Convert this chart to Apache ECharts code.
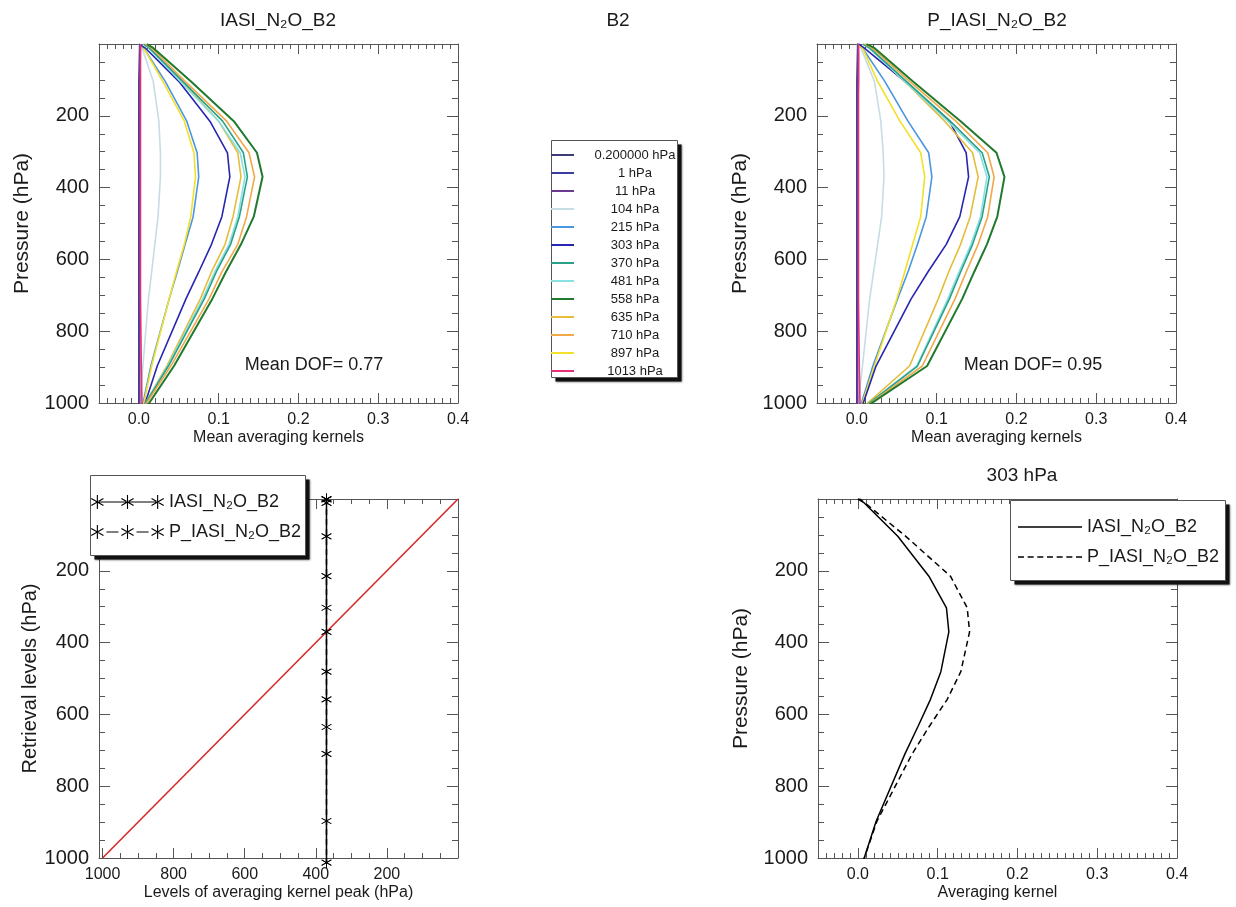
<!DOCTYPE html>
<html><head><meta charset="utf-8">
<script src="https://cdn.jsdelivr.net/npm/echarts@6/dist/echarts.min.js"></script>
<style>html,body{margin:0;padding:0;background:#fff}#c{width:1236px;height:907px}</style>
</head><body><div id="c"></div>
<script>
// ---------------- DATA ----------------
const levels = [0.2, 1, 11, 104, 215, 303, 370, 481, 558, 635, 710, 897, 1013];
const levelNames = ['0.200000 hPa','1 hPa','11 hPa','104 hPa','215 hPa','303 hPa','370 hPa','481 hPa','558 hPa','635 hPa','710 hPa','897 hPa','1013 hPa'];
const levelColors = ['#3b3b78','#3c3ca0','#6b3a90','#c5dde3','#4b96e0','#2626b0','#2aa08a','#88e0e0','#1f7a2e','#e6bc3a','#f0a848','#f2e02a','#e8307a'];

// Mean averaging kernels, IASI_N2O_B2 (one row per retrieval level, values at "levels")
const iasi_0p2  = [0.001,0.001,0.001,0.000,0.000,0.000,0.000,0.000,0.000,0.000,0.000,0.000,0.000];
const iasi_1    = [0.001,0.001,0.001,0.001,0.000,0.000,0.000,0.000,0.000,0.000,0.000,0.000,0.000];
const iasi_11   = [0.001,0.001,0.002,0.001,0.001,0.001,0.001,0.001,0.001,0.001,0.001,0.001,0.001];
const iasi_104  = [0.000,0.001,0.004,0.018,0.025,0.027,0.027,0.024,0.020,0.016,0.012,0.005,0.001];
const iasi_215  = [0.000,0.002,0.006,0.033,0.060,0.073,0.075,0.068,0.058,0.048,0.038,0.015,0.004];
const iasi_303  = [0.000,0.002,0.008,0.050,0.089,0.111,0.114,0.104,0.091,0.075,0.059,0.023,0.006];
const iasi_370  = [0.006,0.008,0.013,0.055,0.105,0.131,0.136,0.126,0.115,0.097,0.082,0.037,0.005];
const iasi_481  = [0.005,0.007,0.012,0.052,0.100,0.127,0.133,0.124,0.113,0.095,0.080,0.036,0.005];
const iasi_558  = [0.010,0.012,0.018,0.065,0.119,0.148,0.155,0.144,0.128,0.109,0.092,0.044,0.009];
const iasi_635  = [0.007,0.009,0.014,0.054,0.100,0.124,0.128,0.118,0.108,0.091,0.077,0.035,0.005];
const iasi_710  = [0.008,0.010,0.016,0.058,0.110,0.138,0.145,0.135,0.124,0.104,0.088,0.040,0.006];
const iasi_897  = [0.000,0.002,0.006,0.030,0.057,0.069,0.071,0.065,0.057,0.047,0.038,0.016,0.005];
const iasi_1013 = [0.002,0.002,0.002,0.002,0.002,0.002,0.002,0.002,0.002,0.002,0.002,0.003,0.004];

// Mean averaging kernels, P_IASI_N2O_B2
const p_0p2  = [0.001,0.001,0.001,0.000,0.000,0.000,0.000,0.000,0.000,0.000,0.000,0.000,0.000];
const p_1    = [0.001,0.001,0.001,0.001,0.000,0.000,0.000,0.000,0.000,0.000,0.000,0.000,0.000];
const p_11   = [0.001,0.001,0.002,0.002,0.001,0.001,0.001,0.001,0.001,0.001,0.001,0.001,0.001];
const p_104  = [0.000,0.001,0.005,0.022,0.030,0.033,0.034,0.031,0.026,0.021,0.016,0.007,0.001];
const p_215  = [0.000,0.002,0.007,0.035,0.064,0.090,0.094,0.087,0.076,0.064,0.051,0.020,0.004];
const p_303  = [0.000,0.003,0.009,0.060,0.116,0.137,0.140,0.129,0.112,0.089,0.068,0.024,0.006];
const p_370  = [0.008,0.010,0.016,0.062,0.117,0.157,0.166,0.157,0.145,0.130,0.116,0.076,0.008];
const p_481  = [0.007,0.009,0.015,0.060,0.114,0.154,0.163,0.155,0.143,0.128,0.114,0.075,0.008];
const p_558  = [0.012,0.014,0.022,0.070,0.130,0.175,0.185,0.176,0.163,0.147,0.132,0.088,0.010];
const p_635  = [0.008,0.010,0.016,0.060,0.110,0.145,0.152,0.142,0.130,0.115,0.102,0.066,0.007];
const p_710  = [0.010,0.012,0.019,0.066,0.124,0.164,0.172,0.164,0.152,0.137,0.123,0.082,0.009];
const p_897  = [0.000,0.002,0.007,0.026,0.054,0.080,0.085,0.080,0.070,0.060,0.050,0.022,0.005];
const p_1013 = [0.002,0.002,0.002,0.002,0.002,0.002,0.002,0.002,0.002,0.002,0.002,0.003,0.004];

const iasiKernels = [iasi_0p2,iasi_1,iasi_11,iasi_104,iasi_215,iasi_303,iasi_370,iasi_481,iasi_558,iasi_635,iasi_710,iasi_897,iasi_1013];
const pKernels    = [p_0p2,p_1,p_11,p_104,p_215,p_303,p_370,p_481,p_558,p_635,p_710,p_897,p_1013];

// Levels of averaging kernel peak for each retrieval level
const peakIASI = [370,370,370,370,370,370,370,370,370,370,370,370,370];
const peakP    = [370,370,370,370,370,370,370,370,370,370,370,370,370];
const oneToOneX = [1000, 0];
const oneToOneY = [1000, 0];

const akTicks = [0, 0.1, 0.2, 0.3, 0.4];
const pressureTicks = [200, 400, 600, 800, 1000];
const peakTicks = [1000, 800, 600, 400, 200];
const dofValues = [0.77, 0.95];
const panelTitles = ['IASI_N\u2082O_B2', 'B2', 'P_IASI_N\u2082O_B2', '303 hPa'];
const productNames = ['IASI_N\u2082O_B2', 'P_IASI_N\u2082O_B2'];
const selectedLevel = '303 hPa';

// ---------------- STYLE ----------------
const FONT = "'Liberation Sans', 'DejaVu Sans', Arial, sans-serif";
const AX = '#555';
const TXT = '#1a1a1a';

function tickStyle(len, vals) {
  const t = {show: true, inside: true, length: len, lineStyle: {color: AX, width: 1}};
  if (vals) t.customValues = vals;
  return t;
}
function xPair(gi, o) {
  const mk = (pos, main) => {
    const a = {
      gridIndex: gi, type: 'value', position: pos, min: o.min, max: o.max, inverse: !!o.inverse,
      splitLine: {show: false},
      axisLine: {show: true, onZero: false, lineStyle: {color: AX, width: 1}},
      axisTick: tickStyle(10, o.ticks),
      minorTick: {show: true, splitNumber: o.minorSplit, length: 5, lineStyle: {color: AX, width: 1}},
      axisLabel: main ? {show: true, customValues: o.labels, formatter: o.fmt, fontSize: 16, color: TXT, margin: 9, fontFamily: FONT} : {show: false}
    };
    if (o.interval) a.interval = o.interval;
    if (main) {
      a.name = o.name; a.nameLocation = 'middle'; a.nameGap = 27;
      a.nameTextStyle = {fontSize: 16, color: TXT, fontFamily: FONT};
    }
    return a;
  };
  return [mk('bottom', true), mk('top', false)];
}
function yPair(gi, o) {
  const mk = (pos, main) => {
    const a = {
      gridIndex: gi, type: 'value', position: pos, min: 0, max: 1000, interval: 200, inverse: true,
      splitLine: {show: false},
      axisLine: {show: true, onZero: false, lineStyle: {color: AX, width: 1}},
      axisTick: tickStyle(11, [0, 200, 400, 600, 800, 1000]),
      minorTick: {show: true, splitNumber: 4, length: 6, lineStyle: {color: AX, width: 1}},
      axisLabel: main ? {show: true, customValues: pressureTicks, formatter: v => String(v), fontSize: 20, color: TXT, margin: 10, fontFamily: FONT} : {show: false}
    };
    if (main) {
      a.name = o.name; a.nameLocation = 'middle'; a.nameGap = o.nameGap;
      a.nameTextStyle = {fontSize: o.nameSize, color: TXT, fontFamily: FONT};
    }
    return a;
  };
  return [mk('left', true), mk('right', false)];
}

const akFmt = v => v.toFixed(1);
const xAxes = [].concat(
  xPair(0, {min: -0.05, max: 0.4, ticks: akTicks, labels: akTicks, fmt: akFmt, minorSplit: 10, name: 'Mean averaging kernels'}),
  xPair(1, {min: -0.05, max: 0.4, ticks: akTicks, labels: akTicks, fmt: akFmt, minorSplit: 10, name: 'Mean averaging kernels'}),
  xPair(2, {min: 0, max: 1010, inverse: true, interval: 200, ticks: [0].concat(peakTicks), labels: peakTicks, fmt: v => String(v), minorSplit: 4, name: 'Levels of averaging kernel peak (hPa)'}),
  xPair(3, {min: -0.05, max: 0.4, ticks: akTicks, labels: akTicks, fmt: akFmt, minorSplit: 10, name: 'Averaging kernel'})
);
const yAxes = [].concat(
  yPair(0, {name: 'Pressure (hPa)', nameGap: 66, nameSize: 21}),
  yPair(1, {name: 'Pressure (hPa)', nameGap: 66, nameSize: 21}),
  yPair(2, {name: 'Retrieval levels (hPa)', nameGap: 54, nameSize: 20}),
  yPair(3, {name: 'Pressure (hPa)', nameGap: 66, nameSize: 21})
);

// ---------- marker / icon paths ----------
function bar(cx, cy, angDeg, r, w) {
  const a = angDeg * Math.PI / 180, dx = Math.cos(a), dy = Math.sin(a), px = -dy, py = dx;
  const pts = [[cx + dx*r + px*w, cy + dy*r + py*w], [cx + dx*r - px*w, cy + dy*r - py*w],
               [cx - dx*r - px*w, cy - dy*r - py*w], [cx - dx*r + px*w, cy - dy*r + py*w]];
  return 'M' + pts.map(p => p[0].toFixed(2) + ',' + p[1].toFixed(2)).join('L') + 'Z';
}
function asterisk(cx, cy, r, w) { return bar(cx, cy, 90, r, w) + bar(cx, cy, 30, r, w) + bar(cx, cy, -30, r, w); }
function hrect(x0, x1, y0, y1) { return 'M' + x0 + ',' + y0 + 'H' + x1 + 'V' + y1 + 'H' + x0 + 'Z'; }

const starSymbol = 'path://' + asterisk(0, 0, 10, 0.7);
const legendStarSolid = 'path://' + hrect(6, 66, 6.4, 7.6) + asterisk(6, 7, 7, 0.55) + asterisk(36, 7, 7, 0.55) + asterisk(66, 7, 7, 0.55);
const legendStarDash = 'path://' + hrect(15, 27, 6.4, 7.6) + hrect(45, 57, 6.4, 7.6) + asterisk(6, 7, 7, 0.55) + asterisk(36, 7, 7, 0.55) + asterisk(66, 7, 7, 0.55);
let dashIcon = 'path://';
for (let k = 0; k < 7; k++) { const x0 = k * 9.67; dashIcon += hrect(+x0.toFixed(2), +(x0 + 6).toFixed(2), 0, 1); }

// ---------------- SERIES ----------------
const series = [];
function kernelSeries(gi, kernels) {
  // draw near-zero rows last so that they stay visible on the zero line
  const order = [3, 4, 11, 5, 9, 7, 6, 10, 8, 0, 1, 2, 12];
  order.forEach(i => {
    series.push({
      type: 'line', name: levelNames[i], xAxisIndex: 2*gi, yAxisIndex: 2*gi,
      data: levels.map((p, j) => [kernels[i][j], p]),
      symbol: 'none', showSymbol: false, silent: true,
      lineStyle: {color: levelColors[i], width: i === 8 ? 2 : 1.6},
      itemStyle: {color: levelColors[i]},
      emphasis: {disabled: true}
    });
  });
}
kernelSeries(0, iasiKernels);
kernelSeries(1, pKernels);

series.push({
  type: 'line', name: '1:1', xAxisIndex: 4, yAxisIndex: 4, silent: true,
  data: oneToOneX.map((x, i) => [x, oneToOneY[i]]), symbol: 'none',
  lineStyle: {color: '#d42a2a', width: 1.6}, itemStyle: {color: '#d42a2a'}, emphasis: {disabled: true}
});
[peakIASI, peakP].forEach((pk, s) => {
  series.push({
    type: 'line', name: productNames[s], xAxisIndex: 4, yAxisIndex: 4, silent: true, clip: false,
    data: levels.map((p, j) => [pk[j], p]),
    symbol: starSymbol, symbolSize: [10, 11], showSymbol: true,
    lineStyle: {color: '#000', width: 1.5, type: s === 0 ? 'solid' : [6, 4]},
    itemStyle: {color: '#000', borderWidth: 0}, emphasis: {disabled: true}
  });
});
const k303 = levelNames.indexOf(selectedLevel);
[iasiKernels[k303], pKernels[k303]].forEach((ak, s) => {
  series.push({
    type: 'line', name: productNames[s], xAxisIndex: 6, yAxisIndex: 6, silent: true,
    data: levels.map((p, j) => [ak[j], p]), symbol: 'none',
    lineStyle: {color: '#000', width: 1.5, type: s === 0 ? 'solid' : [6, 4]},
    itemStyle: {color: '#000'}, emphasis: {disabled: true}
  });
});

// ---------------- LAYOUT ----------------
const grids = [
  {left: 99,  top: 44,  width: 359, height: 359},
  {left: 817, top: 44,  width: 359, height: 359},
  {left: 99,  top: 499, width: 359, height: 359},
  {left: 818, top: 499, width: 359, height: 359}
].map(g => Object.assign(g, {containLabel: false, outerBoundsMode: 'none', show: false}));

const titleStyle = {fontSize: 19, fontWeight: 'normal', color: TXT, fontFamily: FONT};
const titles = [
  {text: panelTitles[0], left: 278, top: 11},
  {text: panelTitles[1], left: 618, top: 11},
  {text: panelTitles[2], left: 997, top: 11},
  {text: panelTitles[3], left: 1022, top: 466}
].map(t => Object.assign(t, {textAlign: 'center', padding: 0, textStyle: titleStyle}));

// legend frames: a dark offset shadow block, then a white framed box on top
const legendBoxes = [[551.5, 140.5, 126, 237], [90.5, 475.5, 215, 80], [1010.5, 500.5, 215, 80]];
const graphics = [];
legendBoxes.forEach(b => {
  graphics.push({type: 'rect', z: 99, silent: true, shape: {x: b[0] + 4, y: b[1] + 4, width: b[2], height: b[3]},
                 style: {fill: '#111', shadowBlur: 2, shadowColor: 'rgba(0,0,0,0.6)'}});
  graphics.push({type: 'rect', z: 100, silent: true, shape: {x: b[0], y: b[1], width: b[2], height: b[3]},
                 style: {fill: '#fff', stroke: '#555', lineWidth: 1}});
});
graphics.push(
  {type: 'text', z: 100, x: 314, y: 365, silent: true,
   style: {text: 'Mean DOF= ' + dofValues[0].toFixed(2), fontSize: 18, fontFamily: FONT, fill: TXT, align: 'center', verticalAlign: 'middle', textAlign: 'center', textVerticalAlign: 'middle'}},
  {type: 'text', z: 100, x: 1033, y: 365, silent: true,
   style: {text: 'Mean DOF= ' + dofValues[1].toFixed(2), fontSize: 18, fontFamily: FONT, fill: TXT, align: 'center', verticalAlign: 'middle', textAlign: 'center', textVerticalAlign: 'middle'}}
);

const legends = [
  {
    data: levelNames, orient: 'vertical', left: 551, top: 146, padding: 0, itemGap: 0,
    itemWidth: 23, itemHeight: 2, icon: 'rect', symbolKeepAspect: false, selectedMode: false, z: 200,
    itemStyle: {borderWidth: 0},
    formatter: n => '{c|' + n + '}',
    textStyle: {fontSize: 13, color: TXT, fontFamily: FONT, lineHeight: 18,
      rich: {c: {width: 112, align: 'center', fontSize: 13, lineHeight: 18, fontFamily: FONT, color: TXT}}}
  },
  {
    data: [{name: productNames[0], icon: legendStarSolid}, {name: productNames[1], icon: legendStarDash}],
    orient: 'vertical', left: 91, top: 492, padding: 0, itemGap: 10, itemWidth: 73, itemHeight: 14,
    symbolKeepAspect: false, selectedMode: false, z: 200,
    itemStyle: {color: '#000', borderWidth: 0},
    textStyle: {fontSize: 18, lineHeight: 20, color: TXT, fontFamily: FONT}
  },
  {
    data: [{name: productNames[0], icon: 'rect'}, {name: productNames[1], icon: dashIcon}],
    orient: 'vertical', left: 1018, top: 517, padding: 0, itemGap: 10, itemWidth: 64, itemHeight: 1.6,
    symbolKeepAspect: false, selectedMode: false, z: 200,
    itemStyle: {color: '#000', borderWidth: 0},
    textStyle: {fontSize: 18, lineHeight: 20, color: TXT, fontFamily: FONT}
  }
];

const chart = echarts.init(document.getElementById('c'), null, {renderer: 'canvas'});
chart.setOption({
  backgroundColor: '#fff',
  animation: false,
  title: titles,
  grid: grids,
  xAxis: xAxes,
  yAxis: yAxes,
  legend: legends,
  graphic: graphics,
  series: series
});
</script></body></html>
